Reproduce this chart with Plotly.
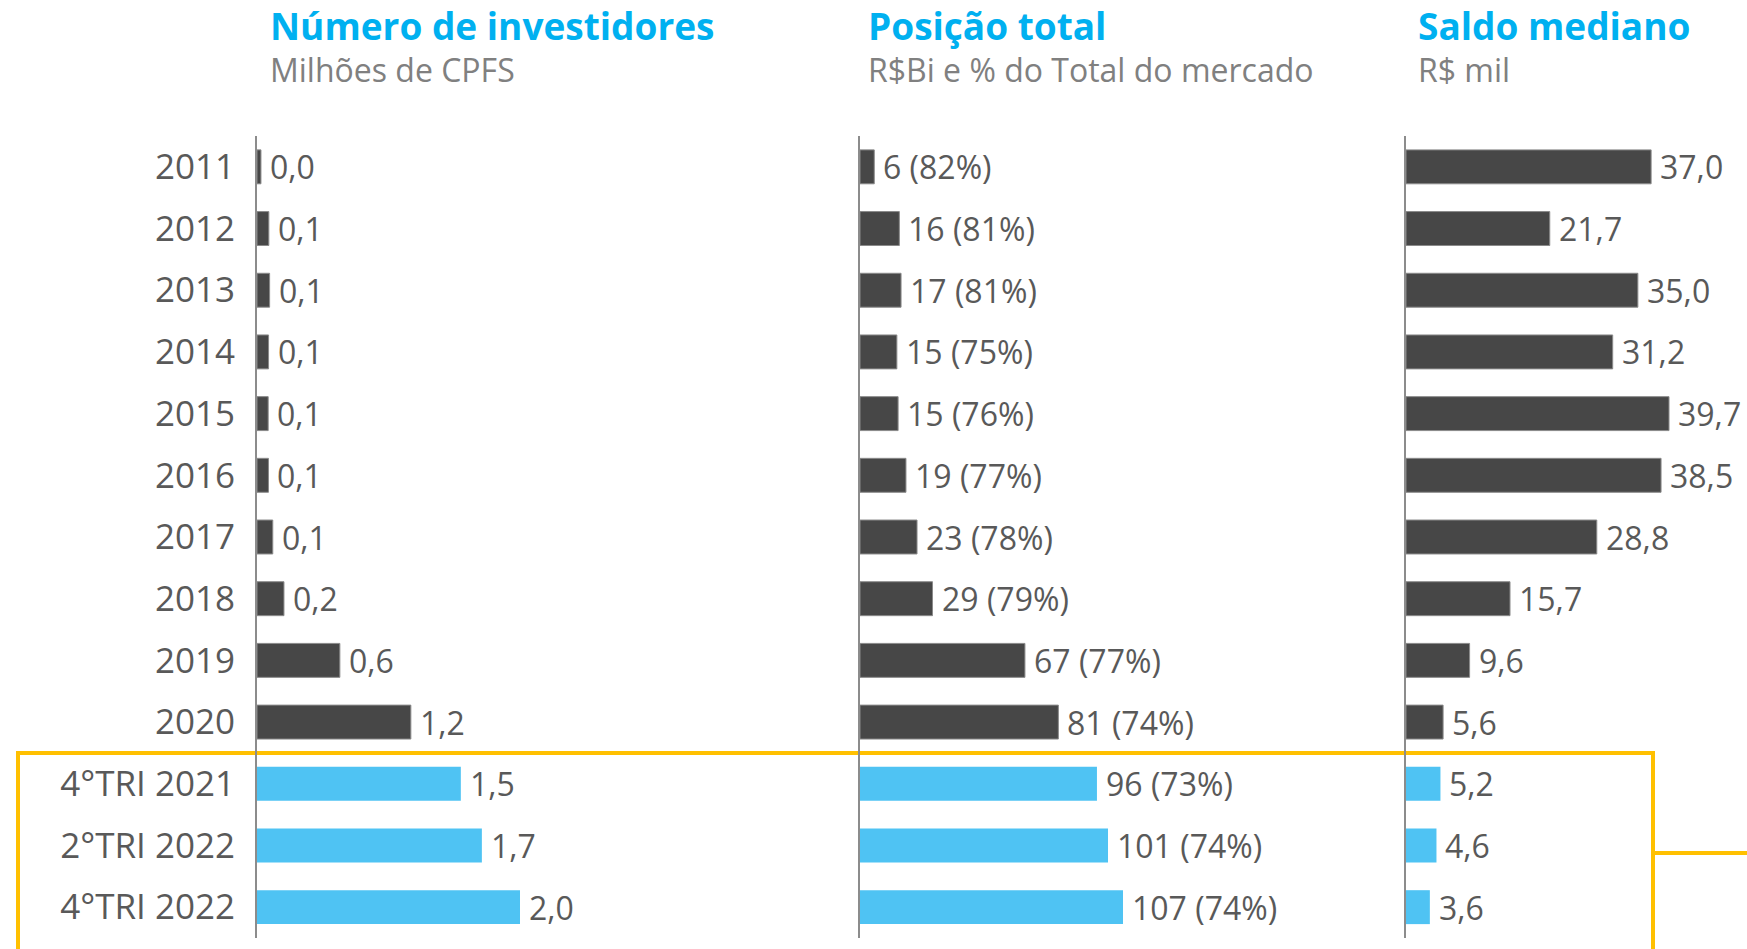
import plotly.graph_objects as go

# ---------------- data ----------------
periods = ["2011", "2012", "2013", "2014", "2015", "2016", "2017", "2018", "2019", "2020",
           "4°TRI 2021", "2°TRI 2022", "4°TRI 2022"]
highlight = [False] * 10 + [True] * 3

investidores = [0.03, 0.09, 0.096, 0.088, 0.085, 0.087, 0.12, 0.205, 0.63, 1.17, 1.55, 1.71, 2.0]
investidores_lbl = ["0,0", "0,1", "0,1", "0,1", "0,1", "0,1", "0,1", "0,2", "0,6", "1,2", "1,5", "1,7", "2,0"]

posicao = [5.8, 16.0, 16.7, 15.0, 15.5, 18.7, 23.2, 29.5, 67.1, 80.7, 96.4, 100.9, 107.0]
posicao_lbl = ["6", "16", "17", "15", "15", "19", "23", "29", "67", "81", "96", "101", "107"]
posicao_pct = ["82%", "81%", "81%", "75%", "76%", "77%", "78%", "79%", "77%", "74%", "73%", "74%", "74%"]

saldo = [37.0, 21.7, 35.0, 31.2, 39.7, 38.5, 28.8, 15.7, 9.6, 5.6, 5.2, 4.6, 3.6]
saldo_lbl = ["37,0", "21,7", "35,0", "31,2", "39,7", "38,5", "28,8", "15,7", "9,6", "5,6", "5,2", "4,6", "3,6"]

titles = ["Número de investidores", "Posição total", "Saldo mediano"]
subtitles = ["Milhões de CPFS", "R$Bi e % do Total do mercado", "R$ mil"]

# ---------------- style ----------------
W, H = 1747, 949
DARK = "#474747"
BLUE = "#4FC3F3"
TITLE_BLUE = "#00B0F0"
TXT = "#595959"
SUB = "#808080"
AXIS = "#8C8C8C"
YELLOW = "#FFC000"
FONT = "Open Sans"

# panel pixel geometry (left edge, right edge) and pixel length of the longest bar
panels_px = [(257, 760), (860, 1400), (1406, 1747)]
title_off = [12, 7, 11]
max_bar_px = 263
plot_top, plot_bot = 136, 938

series = [investidores, posicao, saldo]
labels = [investidores_lbl,
          [f"{v} ({p})" for v, p in zip(posicao_lbl, posicao_pct)],
          saldo_lbl]

colors = [BLUE if h else DARK for h in highlight]
line_colors = ["rgba(0,0,0,0)" if h else "#8a8a8a" for h in highlight]

fig = go.Figure()
annotations = []
layout = {}

for i, (vals, lbls) in enumerate(zip(series, labels)):
    n = i + 1
    xa = "x" if n == 1 else f"x{n}"
    ya = "y" if n == 1 else f"y{n}"
    fig.add_trace(go.Bar(
        x=vals, y=periods, orientation="h",
        xaxis=xa, yaxis=ya,
        marker=dict(color=colors, line=dict(color=line_colors, width=1)),
        width=0.55, hoverinfo="skip", showlegend=False,
    ))
    l, r = panels_px[i]
    rng_max = max(vals) * (r - l) / max_bar_px
    layout[f"xaxis{'' if n == 1 else n}"] = dict(
        domain=[l / W, r / W], range=[0, rng_max], anchor=ya,
        showgrid=False, zeroline=False, showline=False, showticklabels=False, ticks="",
        fixedrange=True,
    )
    layout[f"yaxis{'' if n == 1 else n}"] = dict(
        domain=[(H - plot_bot) / H, (H - plot_top) / H], anchor=xa,
        type="category", categoryorder="array", categoryarray=periods,
        range=[len(periods) - 0.5, -0.5],
        showgrid=False, zeroline=False,
        showline=True, linecolor=AXIS, linewidth=2,
        showticklabels=(n == 1), ticks="", ticklabelstandoff=13,
        tickfont=dict(family=FONT, size=35, color=TXT),
        fixedrange=True,
    )
    for j, (v, t) in enumerate(zip(vals, lbls)):
        annotations.append(dict(
            x=v, y=j, xref=xa, yref=ya, text=t, showarrow=False,
            xanchor="left", yanchor="middle", xshift=7,
            font=dict(family=FONT, size=32, color=TXT),
        ))
    # titles
    annotations.append(dict(
        x=(l + title_off[i]) / W, y=1 - 25 / H, xref="paper", yref="paper",
        text=f"<b>{titles[i]}</b>", borderpad=0,
        showarrow=False, xanchor="left", yanchor="middle",
        font=dict(family=FONT, size=37, color=TITLE_BLUE),
    ))
    annotations.append(dict(
        x=(l + title_off[i]) / W, y=1 - 70 / H, xref="paper", yref="paper",
        text=subtitles[i], borderpad=0,
        showarrow=False, xanchor="left", yanchor="middle",
        font=dict(family=FONT, size=32, color=SUB),
    ))

shapes = [
    dict(type="rect", xref="paper", yref="paper",
         x0=18 / W, x1=1653 / W, y0=-20 / H, y1=1 - 753 / H,
         line=dict(color=YELLOW, width=4), fillcolor="rgba(0,0,0,0)", layer="below"),
    dict(type="line", xref="paper", yref="paper",
         x0=1653 / W, x1=1.0, y0=1 - 853 / H, y1=1 - 853 / H,
         line=dict(color=YELLOW, width=4), layer="below"),
]

fig.update_layout(
    width=W, height=H, margin=dict(l=0, r=0, t=0, b=0),
    paper_bgcolor="white", plot_bgcolor="rgba(0,0,0,0)",
    annotations=annotations, shapes=shapes, bargap=0.45,
    **layout,
)

fig.write_html("out.html", post_script="document.body.style.margin='0';",
               config={"displayModeBar": False})
